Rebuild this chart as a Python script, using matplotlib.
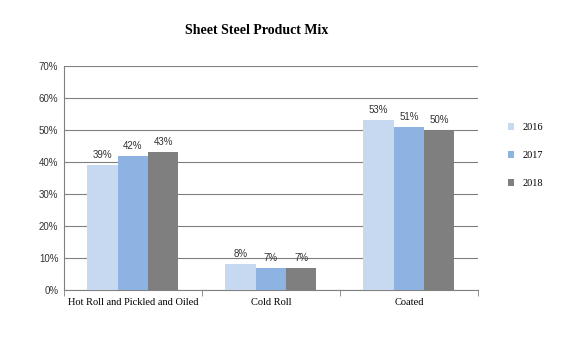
import numpy as np
import matplotlib.pyplot as plt
from matplotlib.ticker import FuncFormatter, FixedLocator

# Dane
categories = ["Hot Roll and Pickled and Oiled", "Cold Roll", "Coated"]
years = ["2016", "2017", "2018"]
v2016 = [39, 8, 53]
v2017 = [42, 7, 51]
v2018 = [43, 7, 50]
colors = ["#c6d9f1", "#8db3e2", "#7f7f7f"]

fig = plt.figure(figsize=(5.71, 3.39), dpi=100)
ax = fig.add_axes([0.112, 0.1445, 0.725, 0.6605])

x = np.arange(len(categories))
w = 0.22
for i, (vals, c, lab) in enumerate(zip([v2016, v2017, v2018], colors, years)):
    pos = x + (i - 1) * w
    ax.bar(pos, vals, width=w, color=c, label=lab, zorder=3)
    for p, v in zip(pos, vals):
        ax.text(p, v + 1.6, f"{v}%", ha="center", va="bottom", fontsize=7,
                family="Liberation Sans", color="#333333")

ax.set_xlim(-0.5, 2.5)
ax.set_ylim(0, 70)
ax.set_yticks(range(0, 71, 10))
ax.yaxis.set_major_formatter(FuncFormatter(lambda v, _: f"{int(v)}%"))
ax.grid(axis="y", color="#808080", linewidth=0.8, zorder=0)
ax.set_xticks(x)
ax.set_xticklabels(categories, fontsize=7.5, family="Liberation Serif")
ax.xaxis.set_minor_locator(FixedLocator([-0.5, 0.5, 1.5, 2.5]))
ax.tick_params(axis="x", which="major", length=0, pad=6)
ax.tick_params(axis="x", which="minor", length=4, color="#808080")
ax.tick_params(axis="y", length=0, labelsize=7, pad=4)
for t in ax.get_yticklabels():
    t.set_family("Liberation Sans")
    t.set_color("#333333")
for s in ["top", "right"]:
    ax.spines[s].set_visible(False)
ax.spines["left"].set_color("#808080")
ax.spines["bottom"].set_color("#808080")

fig.text(257 / 571, 1 - 30 / 339, "Sheet Steel Product Mix", ha="center", va="center",
         fontsize=10, fontweight="bold", family="Liberation Serif")

leg = ax.legend(loc="center left", bbox_to_anchor=(1.05, 0.6), frameon=False,
                prop={"family": "Liberation Serif", "size": 7.5},
                handlelength=0.6, handleheight=0.6, labelspacing=1.85)

fig.savefig("out.png", dpi=100)
